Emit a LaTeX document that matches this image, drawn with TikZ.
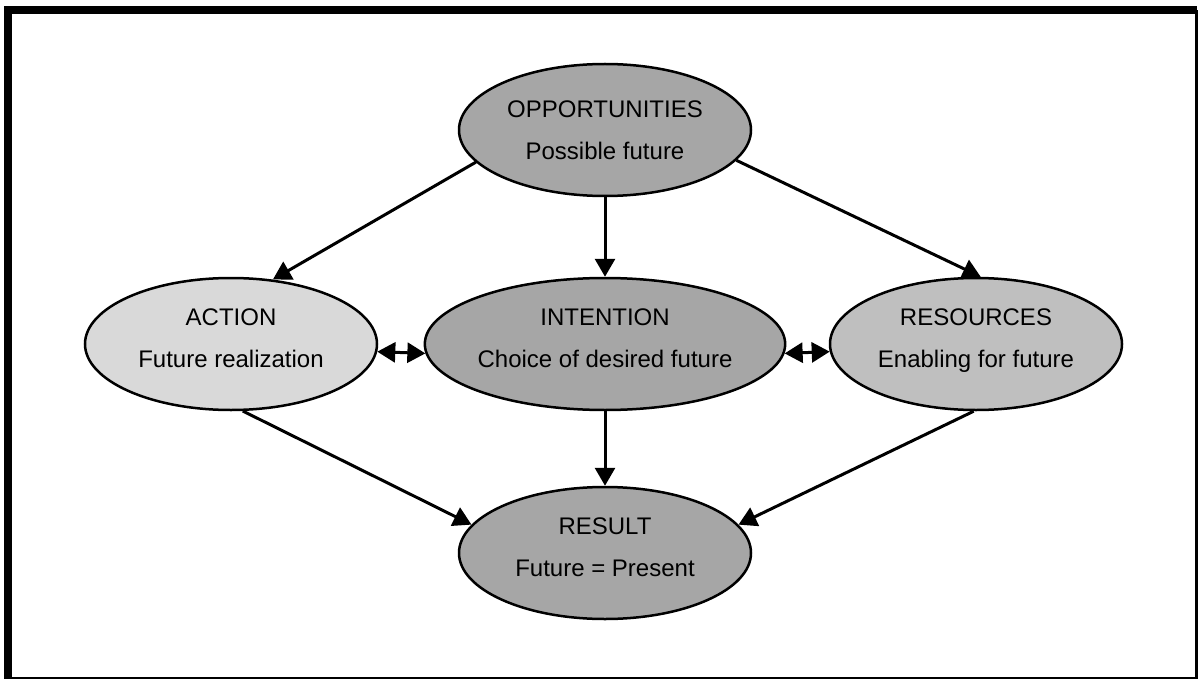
\documentclass[tikz,border=0pt]{standalone}
\usepackage{fontspec}
\setmainfont{Liberation Sans}
\usetikzlibrary{arrows.meta,shapes.geometric}

\begin{document}
\begin{tikzpicture}[x=1pt, y=-1pt, line width=3pt,
	blob/.style={ellipse, draw, line width=2.5pt, minimum width=292pt, minimum height=132pt, inner sep=0pt, align=center, text depth=12pt, font=\fontsize{24}{42}\selectfont},
	link/.style={-{Triangle[length=18pt,width=20pt]}},
	both/.style={{Triangle[length=18pt,width=20pt]}-{Triangle[length=18pt,width=20pt]}}]
	\useasboundingbox (0,0) rectangle (1201,679);

	% frame
	\draw[line width=8pt] (8,679) -- (8,10.5) -- (1196.5,10.5);
	\draw[line width=3pt] (1196.5,10.5) -- (1196.5,679);
	\draw[line width=2pt] (8,678) -- (1196.5,678);

	\node[blob, fill=black!35, text depth=0pt] (opp) at (605,130) {OPPORTUNITIES\\Possible future};
	\node[blob, fill=black!15] (act) at (231,344) {ACTION\\Future realization};
	\node[blob, fill=black!35] (int) at (605,344) {INTENTION\\Choice of desired future};
	\node[blob, fill=black!25] (rsc) at (976,344) {RESOURCES\\Enabling for future};
	\node[blob, fill=black!35] (res) at (605,553) {RESULT\\Future = Present};

	\draw[link] (opp.194) -- (act.57);
	\draw[link] (opp) -- (int);
	\draw[link] (opp.-13) -- (rsc.86);

	\draw[both] (act.-3.6) -- (int.183.6);
	\draw[both] (int.-3.6) -- (rsc.183.6);

	\draw[link] (act.-80) -- (res.168);
	\draw[link] (int) -- (res);
	\draw[link] (rsc.-92) -- (res.12);
\end{tikzpicture}
\end{document}
